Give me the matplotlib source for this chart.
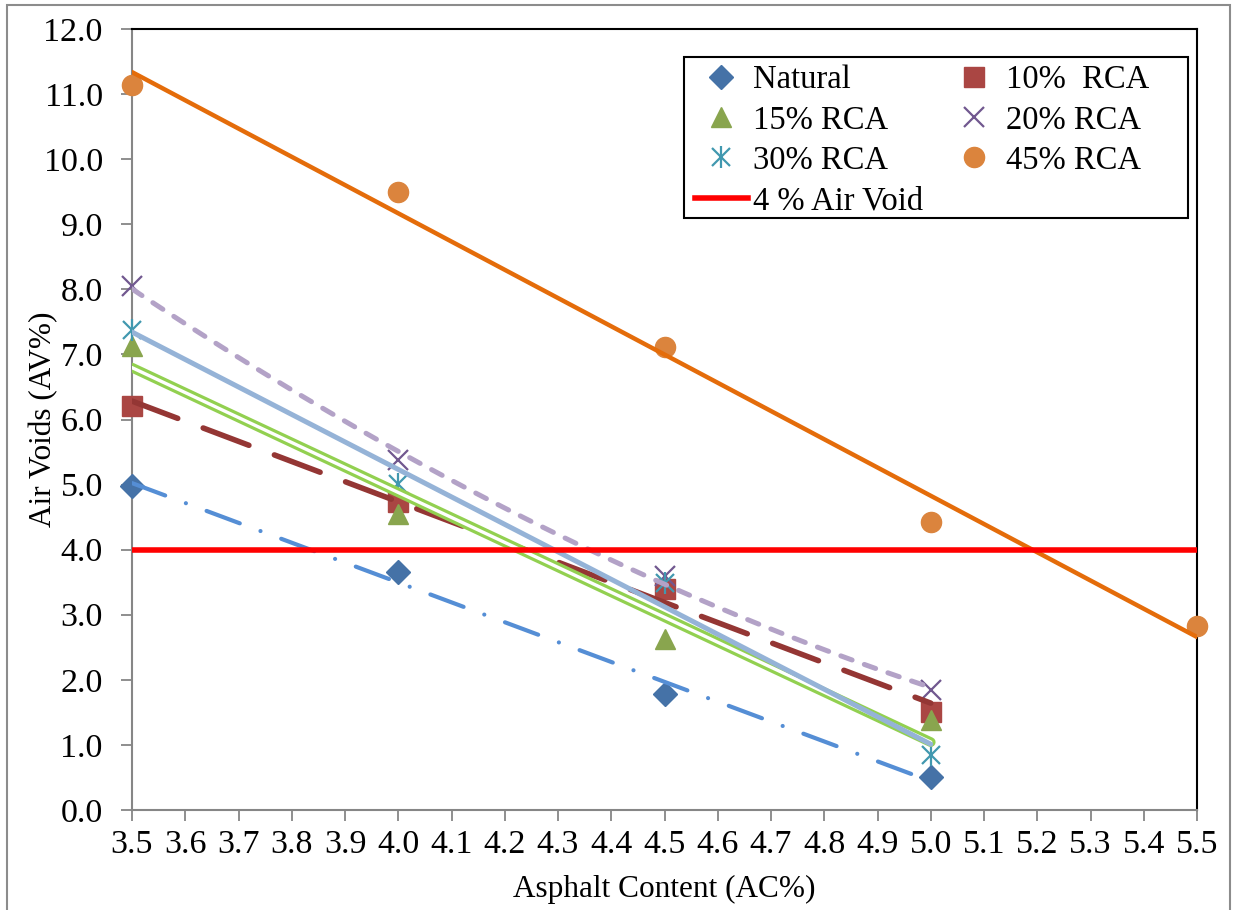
import numpy as np
import matplotlib
matplotlib.use("Agg")
import matplotlib.pyplot as plt
from matplotlib.patches import Rectangle
from matplotlib.legend_handler import HandlerTuple

plt.rcParams['font.family'] = ['Liberation Serif', 'DejaVu Serif']

# asphalt content (%)
ac = [3.5, 4.0, 4.5, 5.0]
ac_45 = [3.5, 4.0, 4.5, 5.0, 5.5]

# air voids (%)
natural = [4.98, 3.65, 1.79, 0.51]
rca_10 = [6.21, 4.74, 3.40, 1.50]
rca_15 = [7.13, 4.55, 2.62, 1.38]
rca_20 = [8.05, 5.38, 3.60, 1.84]
rca_30 = [7.37, 5.01, 3.49, 0.84]
rca_45 = [11.14, 9.49, 7.11, 4.43, 2.82]
target_av = 4.0

W, H = 1235, 910
fig = plt.figure(figsize=(W / 100, H / 100), dpi=100)
ax = fig.add_axes([132 / W, 1 - 810 / H, (1197 - 132) / W, (810 - 29) / H])

# outer chart border
fig.patches.append(Rectangle((7 / W, -0.05), (1230 - 7) / W, 1.05 - 5 / H,
                             transform=fig.transFigure, fill=False,
                             edgecolor='#8c8c8c', lw=1.5))

# markers
kw = dict(ls='none', clip_on=False, zorder=3)
h_nat, = ax.plot(ac, natural, marker='D', ms=12.5, color='#4572A7', **kw)
h_10, = ax.plot(ac, rca_10, marker='s', ms=14.5, color='#AA4643', **kw)
h_15, = ax.plot(ac, rca_15, marker='^', ms=15, color='#89A54E', **kw)
h_20, = ax.plot(ac, rca_20, marker='x', ms=14, mew=1.6, color='#71588F', **kw)
h_30a, = ax.plot(ac, rca_30, marker='x', ms=13, mew=1.6, color='#4198AF', **kw)
h_30b, = ax.plot(ac, rca_30, marker='|', ms=16, mew=1.6, color='#4198AF', **kw)
h_45, = ax.plot(ac_45, rca_45, marker='o', ms=14.5, color='#DB843D', **kw)

# trendlines
def trend(x, y, deg=1):
    p = np.polyfit(x, y, deg)
    xs = np.linspace(min(x), max(x), 100)
    return xs, np.polyval(p, xs)

xs, ys = trend(ac, natural)
ax.plot(xs, ys, color='#558ED5', lw=3, dashes=(8.5, 5.3, 0.01, 5.3),
        dash_capstyle='round', zorder=4)
xs, ys = trend(ac, rca_10)
ax.plot(xs, ys, color='#943634', lw=4, dashes=(8.8, 4.9),
        dash_capstyle='round', zorder=4)
xs, ys = trend(ac, rca_15)
ax.plot(xs, ys, color='#92D050', lw=7, solid_capstyle='round', zorder=4)
ax.plot(xs, ys, color='white', lw=2.4, solid_capstyle='round', zorder=4)
xs, ys = trend(ac, rca_20, 2)
ax.plot(xs, ys, color='#B3A2C7', lw=3.6, dashes=(2.4, 2.6),
        dash_capstyle='round', zorder=4)
xs, ys = trend(ac, rca_30)
ax.plot(xs, ys, color='#95B3D7', lw=3.6, solid_capstyle='round', zorder=4)
xs, ys = trend(ac_45, rca_45)
ax.plot(xs, ys, color='#E46C0A', lw=3.2, solid_capstyle='round', zorder=4)

h_red, = ax.plot([3.5, 5.5], [target_av, target_av], color='#FF0000', lw=4,
                 zorder=5)

ax.set_xlim(3.5, 5.5)
ax.set_ylim(0, 12)
ax.set_xticks(np.round(np.arange(3.5, 5.51, 0.1), 1))
ax.set_yticks(np.arange(0, 12.1, 1.0))
ax.xaxis.set_major_formatter(matplotlib.ticker.FormatStrFormatter('%.1f'))
ax.yaxis.set_major_formatter(matplotlib.ticker.FormatStrFormatter('%.1f'))
ax.tick_params(axis='both', direction='out', length=8, width=1.3,
               color='#868686', labelsize=24.5)
ax.tick_params(axis='y', pad=13)
ax.tick_params(axis='x', pad=6)
for s in ['left', 'bottom']:
    ax.spines[s].set_color('#868686')
    ax.spines[s].set_linewidth(1.5)
for s in ['top', 'right']:
    ax.spines[s].set_color('black')
    ax.spines[s].set_linewidth(1.5)

ax.set_xlabel('Asphalt Content (AC%)', fontsize=22.5, labelpad=11)
ax.set_ylabel('Air Voids (AV%)', fontsize=22.5)
ax.yaxis.set_label_coords((58 - 132) / (1197 - 132), 0.5)

# legend box (Excel style, fixed size)
fig.patches.append(Rectangle((684 / W, 1 - 218 / H), (1188 - 684) / W,
                             (218 - 57) / H, transform=fig.transFigure,
                             facecolor='white', edgecolor='black', lw=1.5))

handles = [h_nat, h_15, (h_30a, h_30b), h_red, h_10, h_20, h_45]
labels = ['Natural', '15% RCA', '30% RCA', '4 % Air Void',
          '10%  RCA', '20% RCA', '45% RCA']
leg = fig.legend(handles, labels, ncol=2, loc='upper left',
                 bbox_to_anchor=(684 / W, 1 - 54 / H),
                 bbox_transform=fig.transFigure, borderaxespad=0,
                 fontsize=23.5, frameon=False,
                 handlelength=1.63, handletextpad=0.15,
                 columnspacing=0.75, labelspacing=0.30, borderpad=0.33,
                 handler_map={tuple: HandlerTuple(ndivide=1, pad=0)})
leg.set_zorder(6)

fig.savefig('out.png', dpi=100)
